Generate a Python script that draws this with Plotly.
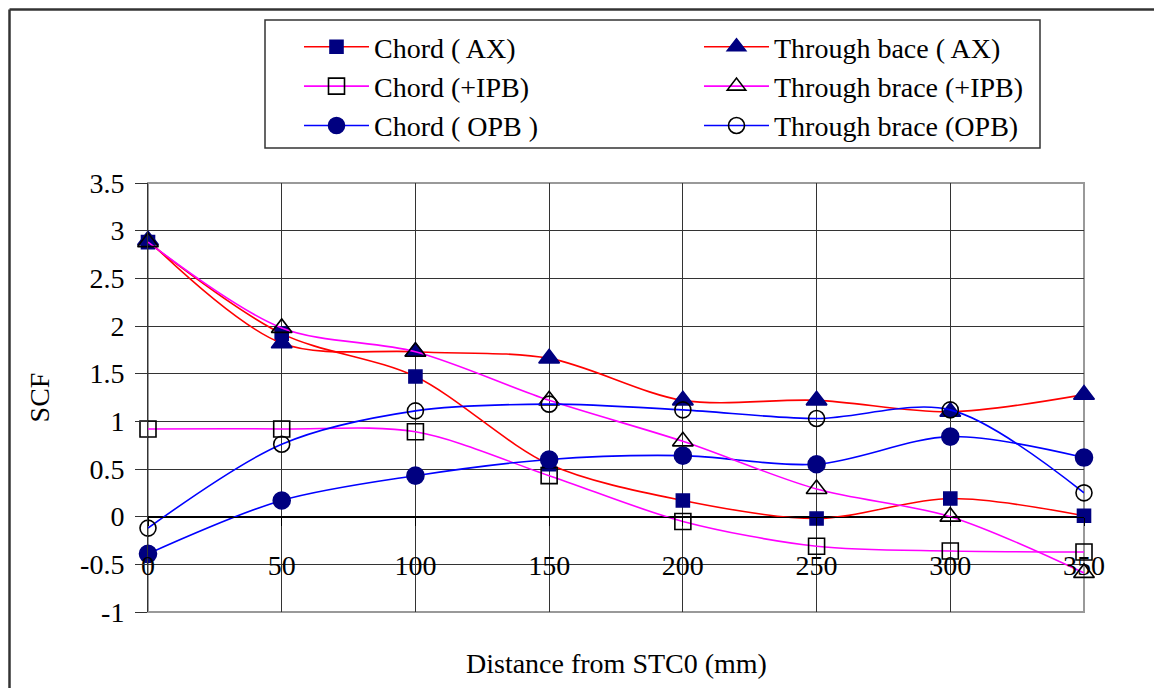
import plotly.graph_objects as go

distance = [0, 50, 100, 150, 200, 250, 300, 350]

chord_ax = [2.88, 1.92, 1.47, 0.55, 0.17, -0.02, 0.19, 0.01]
chord_ipb = [0.92, 0.92, 0.89, 0.43, -0.05, -0.31, -0.36, -0.37]
chord_opb = [-0.39, 0.17, 0.43, 0.60, 0.64, 0.55, 0.84, 0.62]
brace_ax = [2.90, 1.82, 1.73, 1.66, 1.22, 1.22, 1.10, 1.28]
brace_ipb = [2.88, 1.98, 1.73, 1.22, 0.79, 0.29, 0.00, -0.59]
brace_opb = [-0.12, 0.76, 1.11, 1.18, 1.12, 1.03, 1.12, 0.25]

names = ["Chord ( AX)", "Chord (+IPB)", "Chord ( OPB )",
         "Through bace ( AX)", "Through brace (+IPB)", "Through brace (OPB)"]

y_tick_vals = [-1, -0.5, 0, 0.5, 1, 1.5, 2, 2.5, 3, 3.5]
y_tick_text = ["-1", "-0.5", "0", "0.5", "1", "1.5", "2", "2.5", "3", "3.5"]
x_tick_vals = [0, 50, 100, 150, 200, 250, 300, 350]
x_tick_text = ["0", "50", "100", "150", "200", "250", "300", "350"]

FONT = "Liberation Serif"
FS = 28
NAVY = "#000080"

# page offsets: body margin of 8 px is compensated by shrinking the figure
W, H = 1146, 680
ML, MR, MT, MB = 140, 70, 175, 76
PW, PH = W - ML - MR, H - MT - MB
OFF = 8


def px_x(px):
    return (px - OFF - ML) / PW


def px_y(py):
    return (H - MB - (py - OFF)) / PH


series = [
    (chord_ax, names[0], "#FF0000", "square", NAVY, 13, "legend"),
    (chord_ipb, names[1], "#FF00FF", "square-open", "black", 16, "legend"),
    (chord_opb, names[2], "#0000FF", "circle", NAVY, 17, "legend"),
    (brace_ax, names[3], "#FF0000", "triangle-up", NAVY, 18, "legend2"),
    (brace_ipb, names[4], "#FF00FF", "triangle-up-open", "black", 18, "legend2"),
    (brace_opb, names[5], "#0000FF", "circle-open", "black", 16, "legend2"),
]

fig = go.Figure()
for vals, name, lc, sym, mc, ms, lg in series:
    fig.add_trace(go.Scatter(
        x=distance, y=vals, name=name, mode="lines+markers",
        line=dict(color=lc, width=1.6, shape="spline", smoothing=0.9),
        marker=dict(symbol=sym, color=mc, size=ms,
                    line=dict(color=mc, width=1.6)),
        cliponaxis=False, legend=lg,
    ))

legend_common = dict(
    orientation="v", xanchor="left", yanchor="top",
    itemwidth=65, borderwidth=0, bgcolor="rgba(0,0,0,0)",
    font=dict(family=FONT, size=FS, color="black"),
    traceorder="normal",
)

fig.update_layout(
    width=W, height=H,
    margin=dict(l=ML, r=MR, t=MT, b=MB),
    paper_bgcolor="white", plot_bgcolor="white",
    font=dict(family=FONT, size=FS, color="black"),
    showlegend=True,
    legend=dict(x=px_x(299), y=px_y(22), **legend_common),
    legend2=dict(x=px_x(699), y=px_y(22), **legend_common),
    xaxis=dict(
        range=[0, 350], tickvals=x_tick_vals, ticktext=x_tick_text,
        showgrid=True, gridcolor="#333333", gridwidth=1,
        zeroline=True, zerolinecolor="#222222", zerolinewidth=1,
        anchor="free", position=1 / 4.5,
        showline=True, linecolor="black", linewidth=1,
        ticks="outside", ticklen=8, tickcolor="black",
        ticklabelstandoff=16,
        tickfont=dict(family=FONT, size=FS, color="black"),
    ),
    yaxis=dict(
        range=[-1, 3.5], tickvals=y_tick_vals, ticktext=y_tick_text,
        showgrid=True, gridcolor="#333333", gridwidth=1,
        zeroline=True, zerolinecolor="black", zerolinewidth=1,
        showline=True, linecolor="#333333", linewidth=1,
        ticks="outside", ticklen=12, tickcolor="#333333",
        ticklabelstandoff=5,
        tickfont=dict(family=FONT, size=FS, color="black"),
        title=dict(text="SCF", standoff=22, font=dict(family=FONT, size=FS)),
    ),
    annotations=[dict(
        text="Distance from STC0 (mm)", xref="paper", yref="paper",
        x=0.5, y=px_y(663), xanchor="center", yanchor="middle",
        showarrow=False, font=dict(family=FONT, size=FS, color="black"),
    )],
    shapes=[
        dict(type="rect", xref="paper", yref="paper", x0=0, x1=1, y0=0, y1=1,
             line=dict(color="#999999", width=2), layer="between"),
        # outer frame: only its left and top edges are inside the picture
        dict(type="line", xref="paper", yref="paper",
             x0=px_x(9.5), x1=px_x(9.5), y0=px_y(OFF + H), y1=px_y(9.5),
             line=dict(color="#333333", width=2.5), layer="below"),
        dict(type="line", xref="paper", yref="paper",
             x0=px_x(9.5), x1=px_x(OFF + W), y0=px_y(9.5), y1=px_y(9.5),
             line=dict(color="#333333", width=2.5), layer="below"),
        dict(type="rect", xref="paper", yref="paper",
             x0=px_x(265), x1=px_x(1040), y0=px_y(148), y1=px_y(20),
             line=dict(color="#333333", width=1.5), fillcolor="white",
             layer="above"),
    ],
)

fig.write_html("out.html")
